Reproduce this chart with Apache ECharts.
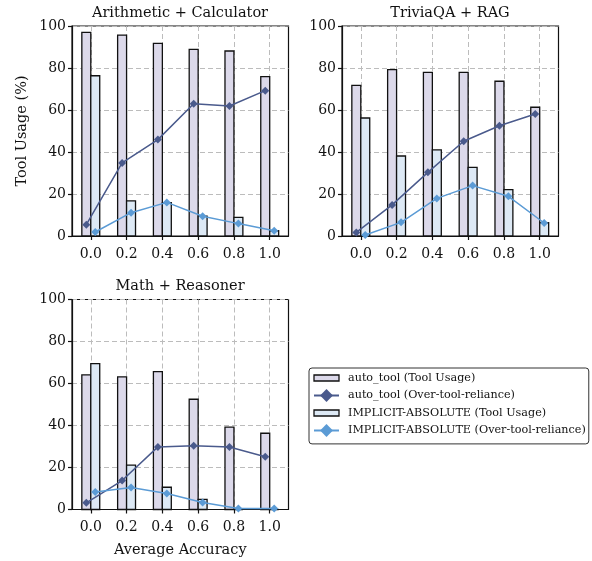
<!DOCTYPE html>
<html>
<head>
<meta charset="utf-8">
<script src="https://cdn.jsdelivr.net/npm/echarts@6/dist/echarts.min.js"></script>
<style>
html,body{margin:0;padding:0;background:#fff;}
#chart{width:592px;height:561px;}
</style>
</head>
<body>
<div id="chart"></div>
<script>
// ---- data ----
const accuracy = [0.0, 0.2, 0.4, 0.6, 0.8, 1.0];
const xTickLabels = ['0.0', '0.2', '0.4', '0.6', '0.8', '1.0'];
const yTicks = [0, 20, 40, 60, 80, 100];
const panelTitles = ['Arithmetic + Calculator', 'TriviaQA + RAG', 'Math + Reasoner'];
const seriesNames = ['auto_tool (Tool Usage)', 'auto_tool (Over-tool-reliance)', 'IMPLICIT-ABSOLUTE (Tool Usage)', 'IMPLICIT-ABSOLUTE (Over-tool-reliance)'];

// Arithmetic + Calculator
const arithAutoUsage = [97.0, 95.7, 91.7, 88.9, 88.1, 75.9];
const arithAutoOver = [5.4, 34.8, 45.9, 63.0, 61.9, 69.2];
const arithImplUsage = [76.3, 16.7, 15.9, 9.5, 8.9, 2.5];
const arithImplOver = [1.9, 11.1, 16.0, 9.4, 5.9, 2.5];

// TriviaQA + RAG
const triviaAutoUsage = [71.7, 79.2, 77.9, 77.9, 73.7, 61.3];
const triviaAutoOver = [1.7, 14.8, 30.3, 45.1, 52.5, 58.1];
const triviaImplUsage = [56.2, 38.1, 41.0, 32.7, 22.1, 6.3];
const triviaImplOver = [0.5, 6.5, 17.9, 24.0, 18.9, 6.2];

// Math + Reasoner
const mathAutoUsage = [64.1, 63.2, 65.7, 52.5, 39.2, 36.3];
const mathAutoOver = [3.2, 13.8, 29.8, 30.3, 29.8, 25.1];
const mathImplUsage = [69.5, 21.1, 10.6, 4.8, 0.0, 0.0];
const mathImplOver = [8.3, 10.5, 7.6, 3.3, 0.5, 0.5];

const panels = [
  [arithAutoUsage, arithAutoOver, arithImplUsage, arithImplOver],
  [triviaAutoUsage, triviaAutoOver, triviaImplUsage, triviaImplOver],
  [mathAutoUsage, mathAutoOver, mathImplUsage, mathImplOver]
];

// ---- styling ----
const FONT = 'DejaVu Serif';
const autoFill = '#dcd9ea';
const implFill = '#dde9f5';
const autoLine = '#4a5a8c';
const implLine = '#5b9bd5';
const BAR_W = 0.05;
const gridLineStyle = {color: '#bcbcbc', type: [5, 3], width: 1};

const grids = [
  {left: 72, top: 26, width: 216.5, height: 210},
  {left: 342, top: 26, width: 216.5, height: 210},
  {left: 72, top: 299.5, width: 216.5, height: 210}
].map(g => Object.assign({show: true, borderColor: '#111', borderWidth: 1.2, backgroundColor: 'transparent'}, g));

function barRender(offset, fill) {
  return function (params, api) {
    const x = api.value(0), y = api.value(1);
    const p0 = api.coord([x + offset, 0]);
    const p1 = api.coord([x + offset + BAR_W, y]);
    return {
      type: 'rect',
      shape: {x: p0[0], y: p1[1], width: p1[0] - p0[0], height: p0[1] - p1[1]},
      style: {fill: fill, stroke: '#111', lineWidth: 1.3}
    };
  };
}

const xAxes = [], yAxes = [], series = [], titles = [];
const titleTops = [[180, 6], [450, 6], [180, 279]];
panels.forEach((data, i) => {
  xAxes.push({
    gridIndex: i, type: 'value', min: -0.105, max: 1.105,
    axisLine: {show: true, onZero: false, lineStyle: {color: '#111', width: 1.2}},
    axisTick: {show: true, length: 4, customValues: accuracy, lineStyle: {color: '#111', width: 1.2}},
    axisLabel: {show: true, customValues: accuracy, formatter: v => xTickLabels[accuracy.findIndex(a => Math.abs(a - v) < 1e-6)] || '', fontFamily: FONT, fontSize: 14, color: '#111', margin: 11},
    splitLine: {show: true, lineStyle: gridLineStyle},
    name: i === 2 ? 'Average Accuracy' : '', nameLocation: 'middle', nameGap: 33,
    nameTextStyle: {fontFamily: FONT, fontSize: 14.5, color: '#111'}
  });
  yAxes.push({
    gridIndex: i, type: 'value', min: yTicks[0], max: yTicks[yTicks.length - 1], interval: 20,
    axisLine: {show: true, onZero: false, lineStyle: {color: '#111', width: 1.2}},
    axisTick: {show: true, length: 4, lineStyle: {color: '#111', width: 1.2}},
    axisLabel: {fontFamily: FONT, fontSize: 14, color: '#111', margin: 6},
    splitLine: {show: true, lineStyle: gridLineStyle},
    name: i === 0 ? 'Tool Usage (%)' : '', nameLocation: 'middle', nameGap: 42,
    nameTextStyle: {fontFamily: FONT, fontSize: 14.5, color: '#111'}
  });
  titles.push({
    text: panelTitles[i], left: titleTops[i][0], top: titleTops[i][1], textAlign: 'center', padding: 0,
    textStyle: {fontFamily: FONT, fontSize: 14.5, fontWeight: 'normal', color: '#111'}
  });
  series.push({
    name: seriesNames[0], type: 'custom', xAxisIndex: i, yAxisIndex: i,
    renderItem: barRender(-BAR_W, autoFill), itemStyle: {color: autoFill, borderColor: '#111', borderWidth: 1.3},
    data: accuracy.map((x, k) => [x, data[0][k]]), z: 2
  });
  series.push({
    name: seriesNames[2], type: 'custom', xAxisIndex: i, yAxisIndex: i,
    renderItem: barRender(0, implFill), itemStyle: {color: implFill, borderColor: '#111', borderWidth: 1.3},
    data: accuracy.map((x, k) => [x, data[2][k]]), z: 2
  });
  series.push({
    name: seriesNames[1], type: 'line', xAxisIndex: i, yAxisIndex: i,
    data: accuracy.map((x, k) => [x - BAR_W / 2, data[1][k]]),
    symbol: 'diamond', symbolSize: 8, showSymbol: true,
    lineStyle: {color: autoLine, width: 1.5}, itemStyle: {color: autoLine}, z: 5
  });
  series.push({
    name: seriesNames[3], type: 'line', xAxisIndex: i, yAxisIndex: i,
    data: accuracy.map((x, k) => [x + BAR_W / 2, data[3][k]]),
    symbol: 'diamond', symbolSize: 8, showSymbol: true,
    lineStyle: {color: implLine, width: 1.5}, itemStyle: {color: implLine}, z: 5
  });
});

const rectIcon = 'path://M0,0 L25,0 L25,6 L0,6 Z';
const chart = echarts.init(document.getElementById('chart'), null, {renderer: 'canvas'});
chart.setOption({
  animation: false,
  backgroundColor: '#fff',
  title: titles,
  grid: grids,
  xAxis: xAxes,
  yAxis: yAxes,
  legend: {
    orient: 'vertical', left: 309, top: 368,
    data: [
      {name: seriesNames[0], icon: rectIcon, itemStyle: {color: autoFill, borderColor: '#111', borderWidth: 1.3}},
      {name: seriesNames[1], itemStyle: {color: autoLine}, lineStyle: {color: autoLine, width: 2}},
      {name: seriesNames[2], icon: rectIcon, itemStyle: {color: implFill, borderColor: '#111', borderWidth: 1.3}},
      {name: seriesNames[3], itemStyle: {color: implLine}, lineStyle: {color: implLine, width: 2}}
    ],
    itemWidth: 25, itemHeight: 16, itemGap: 5.6,
    padding: [4.5, 3, 7, 4],
    borderColor: '#333', borderWidth: 1, borderRadius: 3,
    textStyle: {fontFamily: FONT, fontSize: 11.2, color: '#111', padding: [0, 0, 0, 4]},
    selectedMode: false
  },
  series: series
});
</script>
</body>
</html>
